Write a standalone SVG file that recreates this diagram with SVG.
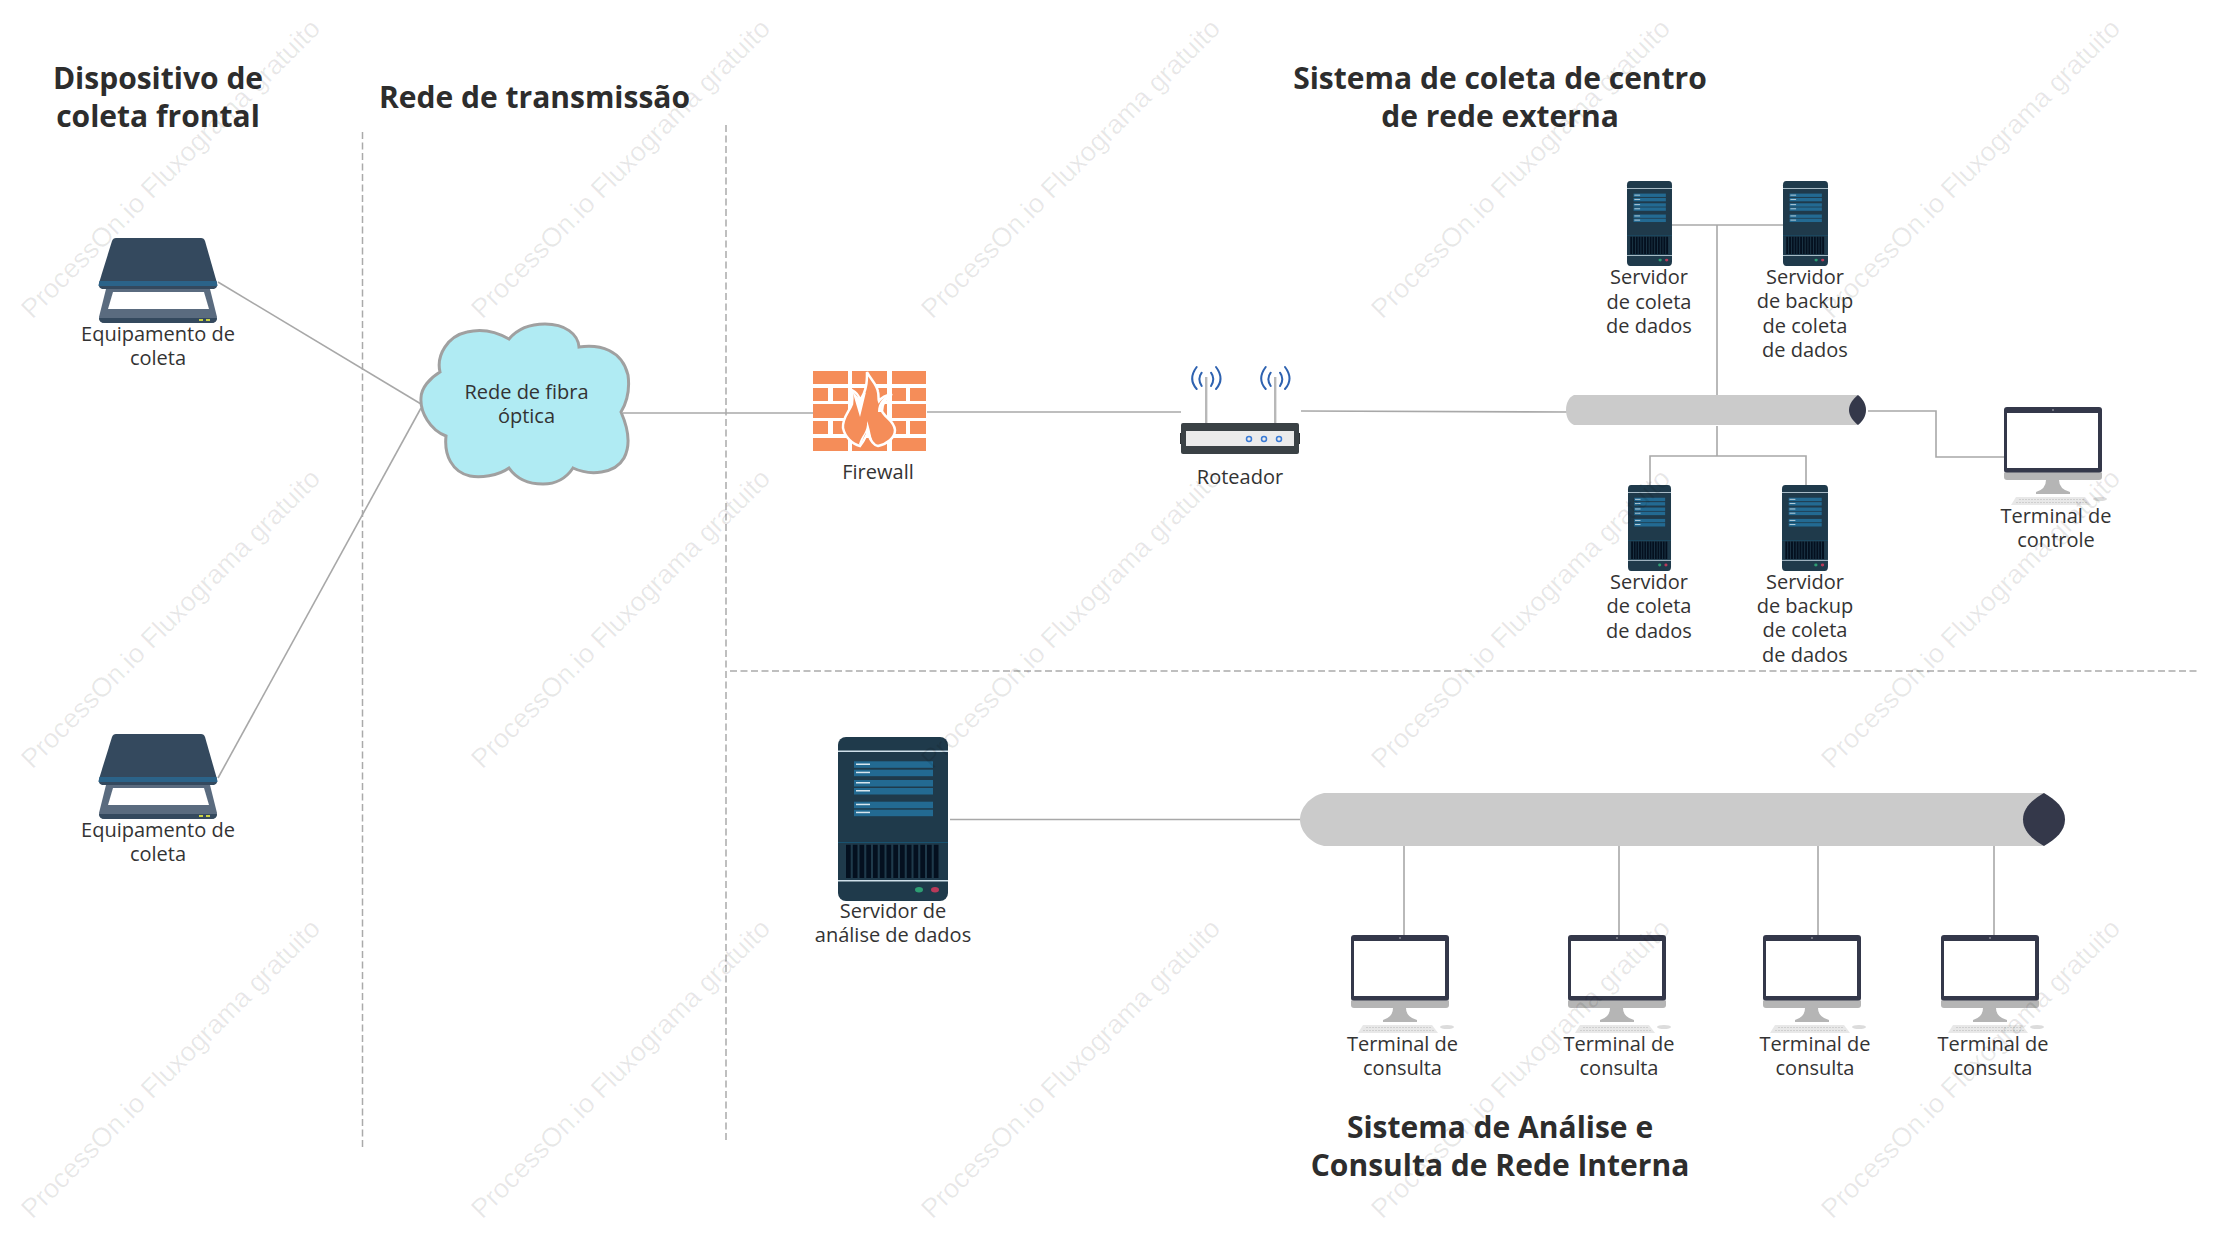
<svg xmlns="http://www.w3.org/2000/svg" xmlns:xlink="http://www.w3.org/1999/xlink" width="2237" height="1234" viewBox="0 0 2237 1234">
<style>
text{font-family:"Open Sans","Noto Sans","Liberation Sans",sans-serif;fill:#333;text-anchor:middle}
.l{font-size:20px}
.t{font-size:30px;font-weight:700;fill:#2d2d2d}
.c{fill:none;stroke:#a8a8a8;stroke-width:1.6}
.d{fill:none;stroke:#aaa;stroke-width:1.5;stroke-dasharray:7 3.5}
.pipe{fill:#cbcbcb}
.lens{fill:#34384a}
.wm{font-family:"Liberation Sans",Arial,sans-serif;font-size:27px;fill:#000;fill-opacity:.09;text-anchor:middle}
</style>
<defs>
<g id="scanner">
<path d="M7 51 H111 L118 79 Q118 85 112 85 H6 Q0 85 0 79Z" fill="#5a6b7f"/>
<path d="M0 80 H118 Q118 85 112 85 H6 Q0 85 0 80Z" fill="#34495e"/>
<path d="M14 54 H105 L110 71 H9Z" fill="#fff"/>
<rect x="100" y="81" width="4" height="2" fill="#c8d044"/><rect x="107" y="81" width="4" height="2" fill="#c8d044"/>
<path d="M13 3 Q14 0 17 0 H102 Q105 0 106 3 L118 45 Q119 50 115 51 H3 Q-1 50 0 45Z" fill="#34495e"/>
<path d="M0.5 43 H117.500 L118.500 48 H-0.500Z" fill="#2b6389"/>
</g>
<g id="server">
<rect width="110" height="164" rx="8" fill="#1f3a4b"/>
<rect y="13.500" width="110" height="1.500" fill="#cfe0ea"/>
<g fill="#236a92"><rect x="16" y="24.300" width="79" height="6.500"/><rect x="16" y="32.700" width="79" height="6.500"/><rect x="16" y="43" width="79" height="6.500"/><rect x="16" y="51" width="79" height="6.500"/><rect x="16" y="64.700" width="79" height="6.500"/><rect x="16" y="72.700" width="79" height="6.500"/></g>
<g fill="#d8e6ee"><rect x="18" y="26.500" width="14" height="1.500"/><rect x="18" y="34.700" width="14" height="1.500"/><rect x="18" y="45" width="14" height="1.500"/><rect x="18" y="53" width="14" height="1.500"/><rect x="18" y="66.700" width="14" height="1.500"/><rect x="18" y="74.700" width="14" height="1.500"/></g>
<rect y="105.200" width="110" height=".8" fill="#17597a"/>
<path d="M8 107.700h4.700v33.300h-4.700zM14.800 107.700h4.700v33.300h-4.700zM21.500 107.700h4.700v33.300h-4.700zM28.300 107.700h4.700v33.300h-4.700zM35 107.700h4.700v33.300h-4.700zM41.800 107.700h4.700v33.300h-4.700zM48.500 107.700h4.700v33.300h-4.700zM55.300 107.700h4.700v33.300h-4.700zM62 107.700h4.700v33.300h-4.700zM68.800 107.700h4.700v33.300h-4.700zM75.500 107.700h4.700v33.300h-4.700zM82.300 107.700h4.700v33.300h-4.700zM89 107.700h4.700v33.300h-4.700zM95.800 107.700h4.700v33.300h-4.700z" fill="#04101f"/>
<rect y="143" width="110" height="1.500" fill="#cfe0ea"/>
<ellipse cx="81" cy="152.700" rx="4" ry="2.700" fill="#2e9e73"/><ellipse cx="97" cy="152.700" rx="4" ry="2.700" fill="#b93a5a"/>
</g>
<g id="terminal">
<rect width="98" height="66" rx="3" fill="#34384a"/>
<rect x="3" y="6" width="91" height="55" fill="#fff"/>
<circle cx="49" cy="3" r=".7" fill="#ddd"/>
<path d="M0 65.500 H98 V70 Q98 73 95 73 H3 Q0 73 0 70Z" fill="#b5b5b5"/>
<path d="M42 73 H55 Q55 82 66 85 V87 H32 V85 Q42 82 42 73Z" fill="#b5b5b5"/>
<path d="M12 90 H81 L87 98 H7Z" fill="#e8e8e8"/>
<path d="M15 92.500 H80 M12 95.500 H84" stroke="#cfcfcf" stroke-width="1" stroke-dasharray="2 1" fill="none"/>
<ellipse cx="96" cy="92" rx="7" ry="2" fill="#dcdcdc"/>
</g>
<g id="antenna">
<rect x="1205" y="377" width="2.400" height="46" fill="#b8b8b8"/>
<path d="M1201.700 372.700 Q1197 379 1201.700 386 M1211 372.700 Q1215.600 379 1211 386 M1196.700 367 Q1187.700 379 1196.700 389 M1216 367 Q1225 379 1216 389" fill="none" stroke="#2e62b0" stroke-width="2" stroke-linecap="round"/>
</g>
</defs>
<rect width="2237" height="1234" fill="#fff"/>

<g id="dividers">
<path class="d" d="M362.500 132V1148"/>
<path class="d" d="M726 125V1140"/>
<path class="d" d="M730 671H2199"/>
</g>

<g id="connectors">
<path class="c" d="M218 282L421 404"/>
<path class="c" d="M218 778L421 408"/>
<path class="c" d="M623 413H813"/>
<path class="c" d="M927 412H1181"/>
<path class="c" d="M1301 411L1567 412"/>
<path class="c" d="M1672 225H1783"/>
<path class="c" d="M1717 225V396"/>
<path class="c" d="M1717 426V456"/>
<path class="c" d="M1650 485V456H1806V485"/>
<path class="c" d="M1868 411H1936V457H2004"/>
<path class="c" d="M950 819.500H1300"/>
<path class="c" d="M1404 846V935"/>
<path class="c" d="M1619 846V935"/>
<path class="c" d="M1818 846V935"/>
<path class="c" d="M1994 846V935"/>
</g>

<g id="title-frontal"><text class="t" x="158" y="89">Dispositivo de</text><text class="t" x="158" y="127">coleta frontal</text></g>
<g id="title-rede"><text class="t" x="534.500" y="108">Rede de transmissão</text></g>
<g id="title-externa"><text class="t" x="1500" y="89">Sistema de coleta de centro</text><text class="t" x="1500" y="127">de rede externa</text></g>
<g id="title-interna"><text class="t" x="1500" y="1138">Sistema de Análise e</text><text class="t" x="1500" y="1176">Consulta de Rede Interna</text></g>

<g id="scanner-1"><use xlink:href="#scanner" href="#scanner" x="99" y="238"/><text class="l" x="158" y="341">Equipamento de</text><text class="l" x="158" y="365">coleta</text></g>
<g id="scanner-2"><use xlink:href="#scanner" href="#scanner" x="99" y="734"/><text class="l" x="158" y="837">Equipamento de</text><text class="l" x="158" y="861">coleta</text></g>

<g id="cloud">
<path d="M509 339 C520 326 535 324 545 324 C565 324 578 334 579 347 C600 344 622 350 628 375 C630 390 627 402 621 412 C628 428 631 445 624 458 C615 474 590 476 573 468 C565 480 553 484 543 484 C528 484 516 478 509 468 C498 476 480 478 470 476 C452 472 444 455 446 436 C430 430 420 412 421 398 C421 388 430 378 440 372 C436 355 448 336 467 332 C483 328 497 332 509 339Z" fill="#b0ebf3" stroke="#a0a0a0" stroke-width="3"/>
<text class="l" x="526.500" y="399">Rede de fibra</text><text class="l" x="526.500" y="423">óptica</text>
</g>

<g id="firewall">
<g fill="#f58d59">
<rect x="813" y="371" width="35" height="13"/><rect x="852" y="371" width="35" height="13"/><rect x="892" y="371" width="34" height="13"/>
<rect x="813" y="388" width="15" height="13"/><rect x="833" y="388" width="15" height="13"/><rect x="852" y="388" width="35" height="13"/><rect x="892" y="388" width="14" height="13"/><rect x="910" y="388" width="16" height="13"/>
<rect x="813" y="404" width="35" height="14"/><rect x="852" y="404" width="35" height="14"/><rect x="892" y="404" width="34" height="14"/>
<rect x="813" y="421" width="15" height="13"/><rect x="833" y="421" width="15" height="13"/><rect x="852" y="421" width="35" height="13"/><rect x="892" y="421" width="14" height="13"/><rect x="910" y="421" width="16" height="13"/>
<rect x="813" y="438" width="35" height="13"/><rect x="852" y="438" width="35" height="13"/><rect x="892" y="438" width="34" height="13"/>
</g>
<path d="M867 372 C871 380 877 384 878 392 C879 396 878 398 879 401 C882 397 887 395 892 394 C886 398 882 404 882 411 C884 417 894 420 895 430 C895 438 887 444 878 446 C873 445 870 440 868 432 C866 436 864 441 860 446 C852 444 845 437 843 428 C842 418 849 412 852 404 C853 398 852 394 852 390 C856 392 859 396 860 400 C863 396 865 392 866 386 C867 382 867 378 867 372Z" fill="#f58d59" stroke="#fff" stroke-width="2.500"/>
<path d="M852 390 L860 417 L866 392 L860 400Z" fill="#fff"/>
<path d="M892 394 C884 396 878 402 878 412 L881 412 C881 405 886 398 892 394Z" fill="#fff"/>
<path d="M867 421 C870 428 870 434 873 443 L870 441 C868 437 867 435 866 433 C864 436 862 441 861 446 L859 444 C861 436 868 432 867 421Z" fill="#fff"/>
<text class="l" x="878" y="479">Firewall</text>
</g>

<g id="router">
<use xlink:href="#antenna" href="#antenna"/>
<use xlink:href="#antenna" href="#antenna" x="69"/>
<rect x="1180" y="433" width="120" height="11" fill="#2c3134"/>
<rect x="1181" y="423" width="118" height="31" rx="2" fill="#3a4145"/>
<rect x="1186" y="431" width="108" height="15" fill="#ebebeb"/>
<g fill="none" stroke="#3a7bd5" stroke-width="1.500"><circle cx="1249" cy="439" r="2.500"/><circle cx="1264" cy="439" r="2.500"/><circle cx="1279" cy="439" r="2.500"/></g>
<text class="l" x="1240" y="484">Roteador</text>
</g>

<g id="bus-externa">
<path class="pipe" d="M1858 395 H1574 C1569 397 1566 403 1566 410 C1566 417 1569 423 1574 425 H1858Z"/>
<path class="lens" d="M1858 395 C1863 399 1866 404 1866 410 C1866 416 1863 421 1858 425 C1853 421 1849 416 1849 410 C1849 404 1853 399 1858 395Z"/>
</g>

<g id="server-1"><use xlink:href="#server" href="#server" transform="translate(1627 181) scale(.409 .518)"/><text class="l" x="1649" y="284">Servidor</text><text class="l" x="1649" y="309">de coleta</text><text class="l" x="1649" y="333">de dados</text></g>
<g id="server-2"><use xlink:href="#server" href="#server" transform="translate(1783 181) scale(.409 .518)"/><text class="l" x="1805" y="284">Servidor</text><text class="l" x="1805" y="308">de backup</text><text class="l" x="1805" y="333">de coleta</text><text class="l" x="1805" y="357">de dados</text></g>
<g id="server-3"><use xlink:href="#server" href="#server" transform="translate(1628 485) scale(.391 .524)"/><text class="l" x="1649" y="589">Servidor</text><text class="l" x="1649" y="613">de coleta</text><text class="l" x="1649" y="638">de dados</text></g>
<g id="server-4"><use xlink:href="#server" href="#server" transform="translate(1782 485) scale(.418 .524)"/><text class="l" x="1805" y="589">Servidor</text><text class="l" x="1805" y="613">de backup</text><text class="l" x="1805" y="637">de coleta</text><text class="l" x="1805" y="662">de dados</text></g>

<g id="terminal-controle"><use xlink:href="#terminal" href="#terminal" x="2004" y="407"/><text class="l" x="2056" y="523">Terminal de</text><text class="l" x="2056" y="547">controle</text></g>

<g id="server-analise"><use xlink:href="#server" href="#server" x="838" y="737"/><text class="l" x="893" y="918">Servidor de</text><text class="l" x="893" y="942">análise de dados</text></g>

<g id="bus-interna">
<path class="pipe" d="M2044 793 H1324 C1310 796 1300 808 1300 819.500 C1300 831 1310 843 1324 846 H2044Z"/>
<path class="lens" d="M2044 793 C2056 800 2065 808 2065 819.500 C2065 831 2056 839 2044 846 C2032 839 2023 831 2023 819.500 C2023 808 2032 800 2044 793Z"/>
</g>

<g id="terminal-consulta-1"><use xlink:href="#terminal" href="#terminal" x="1351" y="935"/><text class="l" x="1402.500" y="1051">Terminal de</text><text class="l" x="1402.500" y="1075">consulta</text></g>
<g id="terminal-consulta-2"><use xlink:href="#terminal" href="#terminal" x="1568" y="935"/><text class="l" x="1619" y="1051">Terminal de</text><text class="l" x="1619" y="1075">consulta</text></g>
<g id="terminal-consulta-3"><use xlink:href="#terminal" href="#terminal" x="1763" y="935"/><text class="l" x="1815" y="1051">Terminal de</text><text class="l" x="1815" y="1075">consulta</text></g>
<g id="terminal-consulta-4"><use xlink:href="#terminal" href="#terminal" x="1941" y="935"/><text class="l" x="1993" y="1051">Terminal de</text><text class="l" x="1993" y="1075">consulta</text></g>

<g id="watermark">
<text class="wm" transform="translate(177 175) rotate(-45)">ProcessOn.io Fluxograma gratuito</text>
<text class="wm" transform="translate(627 175) rotate(-45)">ProcessOn.io Fluxograma gratuito</text>
<text class="wm" transform="translate(1077 175) rotate(-45)">ProcessOn.io Fluxograma gratuito</text>
<text class="wm" transform="translate(1527 175) rotate(-45)">ProcessOn.io Fluxograma gratuito</text>
<text class="wm" transform="translate(1977 175) rotate(-45)">ProcessOn.io Fluxograma gratuito</text>
<text class="wm" transform="translate(177 625) rotate(-45)">ProcessOn.io Fluxograma gratuito</text>
<text class="wm" transform="translate(627 625) rotate(-45)">ProcessOn.io Fluxograma gratuito</text>
<text class="wm" transform="translate(1077 625) rotate(-45)">ProcessOn.io Fluxograma gratuito</text>
<text class="wm" transform="translate(1527 625) rotate(-45)">ProcessOn.io Fluxograma gratuito</text>
<text class="wm" transform="translate(1977 625) rotate(-45)">ProcessOn.io Fluxograma gratuito</text>
<text class="wm" transform="translate(177 1075) rotate(-45)">ProcessOn.io Fluxograma gratuito</text>
<text class="wm" transform="translate(627 1075) rotate(-45)">ProcessOn.io Fluxograma gratuito</text>
<text class="wm" transform="translate(1077 1075) rotate(-45)">ProcessOn.io Fluxograma gratuito</text>
<text class="wm" transform="translate(1527 1075) rotate(-45)">ProcessOn.io Fluxograma gratuito</text>
<text class="wm" transform="translate(1977 1075) rotate(-45)">ProcessOn.io Fluxograma gratuito</text>
</g>
</svg>
